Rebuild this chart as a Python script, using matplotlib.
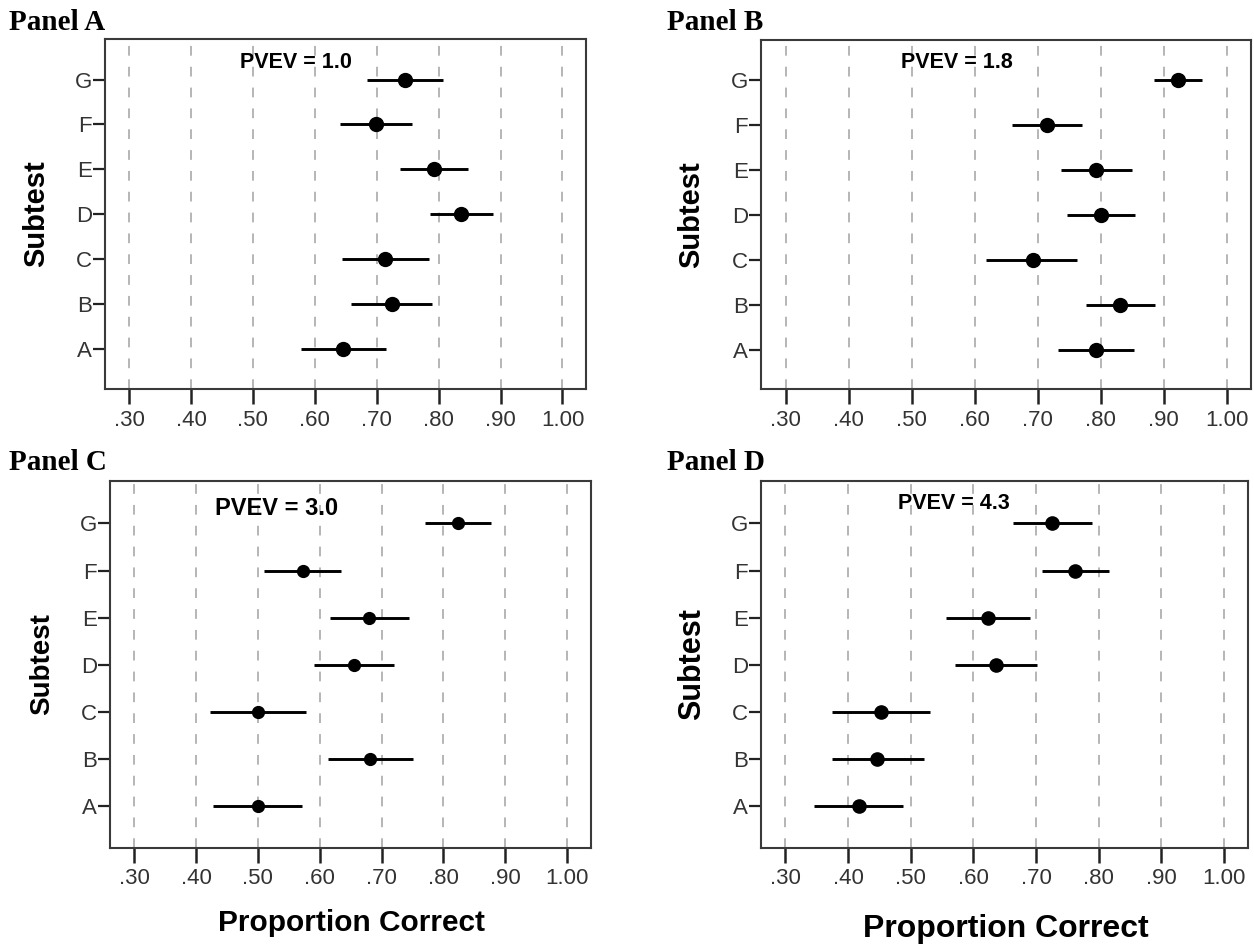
import matplotlib
matplotlib.use('Agg')
import matplotlib.pyplot as plt
import numpy as np

plt.rcParams['font.family'] = ['Liberation Sans', 'DejaVu Sans']
plt.rcParams['lines.scale_dashes'] = False

subtests = ['A', 'B', 'C', 'D', 'E', 'F', 'G']
xticks = [0.30, 0.40, 0.50, 0.60, 0.70, 0.80, 0.90, 1.00]
xticklabels = ['.30', '.40', '.50', '.60', '.70', '.80', '.90', '1.00']

# point estimates and interval ends, subtests A..G
a_est = [0.646, 0.724, 0.714, 0.836, 0.793, 0.699, 0.746]
a_lo = [0.577, 0.658, 0.644, 0.786, 0.737, 0.640, 0.684]
a_hi = [0.715, 0.789, 0.785, 0.887, 0.848, 0.757, 0.807]

b_est = [0.793, 0.831, 0.692, 0.800, 0.793, 0.715, 0.923]
b_lo = [0.732, 0.776, 0.618, 0.746, 0.737, 0.659, 0.885]
b_hi = [0.852, 0.886, 0.763, 0.855, 0.849, 0.771, 0.961]

c_est = [0.501, 0.682, 0.501, 0.655, 0.679, 0.573, 0.824]
c_lo = [0.427, 0.613, 0.422, 0.590, 0.616, 0.510, 0.770]
c_hi = [0.572, 0.750, 0.578, 0.720, 0.744, 0.634, 0.877]

d_est = [0.417, 0.446, 0.452, 0.636, 0.623, 0.763, 0.726]
d_lo = [0.345, 0.374, 0.375, 0.571, 0.556, 0.709, 0.664]
d_hi = [0.488, 0.521, 0.531, 0.702, 0.690, 0.816, 0.789]

pvev = ['1.0', '1.8', '3.0', '4.3']
panel_names = ['Panel A', 'Panel B', 'Panel C', 'Panel D']


def draw_panel(ax, est, lo, hi, pv, pv_x, pv_y, pv_size, dot, lab_size, xlab):
    y = np.arange(len(subtests))
    ax.set_xlim(0.261, 1.038)
    ax.set_ylim(-0.88, 6.9)
    ax.set_xticks(xticks)
    ax.set_xticklabels(xticklabels)
    ax.set_yticks(y)
    ax.set_yticklabels(subtests)
    ax.grid(axis='x', color='#b5b5b5', linewidth=1.4, linestyle=(0, (7, 8)))
    ax.set_axisbelow(True)
    ax.hlines(y, lo, hi, color='black', linewidth=2.1, zorder=3)
    ax.plot(est, y, 'o', color='black', markersize=dot, zorder=4)
    for s in ax.spines.values():
        s.set_color('#3a3a3a')
        s.set_linewidth(1.5)
    ax.tick_params(axis='x', length=11, width=1.8, color='#222222',
                   labelsize=16, labelcolor='#333333', pad=4)
    ax.tick_params(axis='y', length=8.5, width=1.6, color='#222222',
                   labelsize=16, labelcolor='#333333', pad=1)
    ax.text(pv_x, pv_y, 'PVEV = ' + pv, fontsize=pv_size, fontweight='bold',
            ha='center', va='center')
    ax.set_ylabel('Subtest', fontsize=lab_size, fontweight='bold')
    ax.yaxis.label.set_va('center')
    ax.yaxis.set_label_coords(-0.142, 0.5)
    if xlab is not None:
        ax.set_xlabel('Proportion Correct', fontsize=xlab[0], fontweight='bold')
        ax.xaxis.label.set_va('center')
        ax.xaxis.set_label_coords(0.503, xlab[1])


fig = plt.figure(figsize=(12.54, 9.47), dpi=100)
axA = fig.add_axes([0.0837, 0.5892, 0.3836, 0.3696])
axB = fig.add_axes([0.6069, 0.5892, 0.3905, 0.3685])
axC = fig.add_axes([0.0877, 0.1049, 0.3834, 0.3872])
axD = fig.add_axes([0.6069, 0.1049, 0.3880, 0.3872])

draw_panel(axA, a_est, a_lo, a_hi, pvev[0], 0.569, 6.38, 15.5, 10, 21, None)
draw_panel(axB, b_est, b_lo, b_hi, pvev[1], 0.572, 6.40, 15.5, 10, 21, None)
draw_panel(axC, c_est, c_lo, c_hi, pvev[2], 0.531, 6.31, 17, 8.5, 20, (21.5, -0.205))
draw_panel(axD, d_est, d_lo, d_hi, pvev[3], 0.569, 6.43, 15.5, 9.5, 22, (23, -0.222))

serif = ['Liberation Serif', 'DejaVu Serif']
fig.text(9 / 1254, 1 - 29.5 / 947, panel_names[0], family=serif, fontsize=21,
         fontweight='bold', ha='left', va='baseline')
fig.text(667 / 1254, 1 - 29.5 / 947, panel_names[1], family=serif, fontsize=21,
         fontweight='bold', ha='left', va='baseline')
fig.text(9 / 1254, 1 - 470 / 947, panel_names[2], family=serif, fontsize=21,
         fontweight='bold', ha='left', va='baseline')
fig.text(667 / 1254, 1 - 470 / 947, panel_names[3], family=serif, fontsize=21,
         fontweight='bold', ha='left', va='baseline')

plt.savefig('out.png', dpi=100)
plt.close()
